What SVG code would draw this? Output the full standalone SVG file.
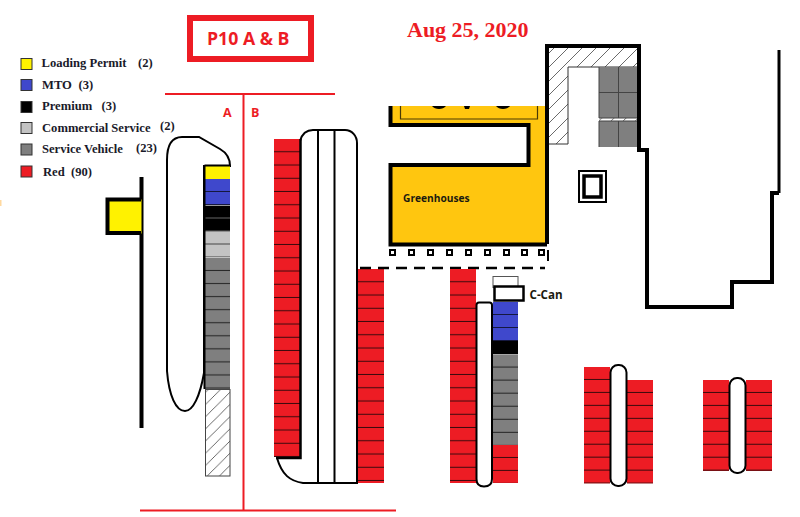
<svg xmlns="http://www.w3.org/2000/svg" width="800" height="517" viewBox="0 0 800 517">
<style>
.leg{font-family:"Liberation Serif",serif;font-weight:700;font-size:12.6px;fill:#1a1a2a}
.sw{stroke:#333;stroke-width:1}
.road{fill:#fff;stroke:#000;stroke-width:2}
.wall{fill:none;stroke:#000;stroke-width:4}
.rl{stroke:#ed1c24;stroke-width:2;fill:none}
.lab{font-family:"Open Sans",sans-serif;font-weight:700}
</style>
<defs>
<pattern id="pr" patternUnits="userSpaceOnUse" width="30" height="13.25"><rect width="30" height="13.25" fill="#ed1c24"/><rect y="12.25" width="30" height="1" fill="#3a0a0c"/></pattern>
<pattern id="pr2" patternUnits="userSpaceOnUse" width="30" height="12.95"><rect width="30" height="12.95" fill="#ed1c24"/><rect y="11.95" width="30" height="1" fill="#3a0a0c"/></pattern>
<pattern id="pg" patternUnits="userSpaceOnUse" width="30" height="13.05"><rect width="30" height="13.05" fill="#7f7f7f"/><rect y="12.05" width="30" height="1" fill="#222"/></pattern>
<pattern id="pb" patternUnits="userSpaceOnUse" width="30" height="13"><rect width="30" height="13" fill="#3f48cc"/><rect y="12" width="30" height="1" fill="#15183f"/></pattern>
<pattern id="pk" patternUnits="userSpaceOnUse" width="30" height="13"><rect width="30" height="13" fill="#000"/><rect y="12" width="30" height="1" fill="#666"/></pattern>
<pattern id="pl" patternUnits="userSpaceOnUse" width="30" height="13"><rect width="30" height="13" fill="#c3c3c3"/><rect y="12" width="30" height="1" fill="#444"/></pattern>
<pattern id="ph" patternUnits="userSpaceOnUse" width="12.2" height="12.2"><path d="M-1 13.2L13.2-1" stroke="#444" stroke-width="0.8" fill="none"/></pattern>
<pattern id="ph2" patternUnits="userSpaceOnUse" width="14" height="14"><path d="M-1 15L15-1" stroke="#444" stroke-width="0.8" fill="none"/></pattern>
</defs>

<rect x="0" y="200" width="1.500" height="6" fill="#ffd9a0"/>

<g id="title"><rect x="190" y="18" width="121" height="41" fill="#fff" stroke="#ed1c24" stroke-width="6"/><text x="207" y="45" class="lab" font-size="17.700" fill="#ed1c24">P10 A &amp; B</text></g>
<g id="date"><text x="407" y="37" font-family="Liberation Serif,serif" font-weight="700" font-size="22" fill="#ed1c24">Aug 25, 2020</text></g>

<g id="legend">
<rect class="sw" x="21" y="58.500" width="11" height="11" fill="#fff200"/><text class="leg" x="41.500" y="67">Loading Permit</text><text class="leg" x="138" y="67">(2)</text>
<rect class="sw" x="21" y="79.500" width="11" height="11" fill="#3f48cc"/><text class="leg" x="42" y="89">MTO</text><text class="leg" x="78.500" y="89">(3)</text>
<rect class="sw" x="21" y="101.500" width="11" height="11" fill="#000"/><text class="leg" x="42" y="110">Premium</text><text class="leg" x="101.500" y="110">(3)</text>
<rect class="sw" x="21" y="122.500" width="11" height="11" fill="#c3c3c3"/><text class="leg" x="42" y="131.500">Commercial Service</text><text class="leg" x="160" y="130">(2)</text>
<rect class="sw" x="21" y="144" width="11" height="11" fill="#7f7f7f"/><text class="leg" x="42" y="153">Service Vehicle</text><text class="leg" x="136" y="152">(23)</text>
<rect class="sw" x="21" y="166" width="11" height="11" fill="#ed1c24"/><text class="leg" x="43" y="176">Red</text><text class="leg" x="71" y="176">(90)</text>
</g>

<g id="dividers">
<path class="rl" d="M165 94H335M243.500 94V510M140 510.500H396"/>
<text x="223" y="117" class="lab" font-size="12.500" fill="#ed1c24">A</text>
<text x="251" y="117" class="lab" font-size="12.500" fill="#ed1c24">B</text>
</g>

<g id="lot-a">
<path class="wall" d="M141.500 177V428"/>
<rect x="107.500" y="199.500" width="34" height="34" fill="#fff200" stroke="none"/>
<path d="M141 199.500H107.500V233H141" fill="none" stroke="#000" stroke-width="4"/>
<path class="road" d="M204 373C200 396 193 411 185 411C176 411 169 396 167 371V160C167 145 172 137 182 137H199L220 149C227 153 230 158 230 166L204 166Z"/>
<rect x="205" y="166" width="25" height="13" fill="#fff200"/>
<g transform="translate(205 179)"><rect width="25" height="26" fill="url(#pb)"/></g>
<g transform="translate(205 205.500)"><rect width="25" height="26" fill="url(#pk)"/></g>
<g transform="translate(205 231.500)"><rect width="25" height="26" fill="url(#pl)"/></g>
<g transform="translate(205 258)"><rect width="25" height="131" fill="url(#pg)"/></g>
<rect x="205.500" y="389.500" width="24.500" height="86.500" fill="url(#ph)" stroke="#444" stroke-width="1"/>
<path d="M204.500 165.500H230.500M204.500 165V389" fill="none" stroke="#000" stroke-width="2"/>
</g>

<g id="lot-b">
<path class="road" d="M300 141C302 134 307 130 313 130H345C352 130 357 136 357 143V483H303C290 481 282 475 277 458"/>
<path d="M318 130V483M334.500 130V483" stroke="#000" stroke-width="2" fill="none"/>
<g transform="translate(274 139)"><rect width="26" height="318" fill="url(#pr)"/></g>
<path d="M300.500 139V458H276" fill="none" stroke="#000" stroke-width="2.500"/>
<g transform="translate(358 269)"><rect width="26" height="214" fill="url(#pr)"/></g>
</g>

<g id="greenhouses">
<path d="M390 106V125H528.500V165H390V244.500H547V106Z" fill="#ffc60f"/>
<path d="M390.500 106V125H528.500V165H390.500V244.500H547" fill="none" stroke="#000" stroke-width="4"/>
<path d="M400.500 106V119H537.500V106" fill="none" stroke="#4a3a05" stroke-width="1.200"/>
<path d="M432 106C435 110 443 110 446 106ZM464 106L465 109H469L470 106ZM496 106C499 110 507 110 510 106Z" fill="#000"/>
<text class="lab" x="403" y="201.500" font-size="10.200" fill="#1a1a10">Greenhouses</text>
</g>

<g id="building">
<path d="M548 48H637V67H568V144H548Z" fill="url(#ph2)" stroke="none"/>
<path d="M548 144H568V67H637" fill="none" stroke="#333" stroke-width="1"/>
<rect x="599" y="118" width="38" height="3.500" fill="url(#ph)"/>
<path d="M599 67H637V118H599ZM599 121H637V147H599Z" fill="#7f7f7f"/>
<path d="M618.500 67V118M618.500 121V147M599 92.500H637M599 118H637M599 121H637M599 67V118M599 121V147" stroke="#444" stroke-width="1" fill="none"/>
<path class="wall" d="M547 244V46H639V150H647V307H732V282H772V193H779"/>
<path d="M779 50V193" stroke="#000" stroke-width="3" fill="none"/>
</g>

<g id="kiosk">
<rect x="579" y="171" width="27" height="31" fill="#fff" stroke="#000" stroke-width="2"/>
<rect x="584" y="176" width="17" height="21" fill="#fff" stroke="#000" stroke-width="3.500"/>
</g>

<g id="bollards" fill="#fff" stroke="#000" stroke-width="2">
<rect x="390" y="250" width="5" height="5"/><rect x="409" y="250" width="5" height="5"/><rect x="428" y="250" width="5" height="5"/><rect x="447" y="250" width="5" height="5"/><rect x="466" y="250" width="5" height="5"/><rect x="485" y="250" width="5" height="5"/><rect x="504" y="250" width="5" height="5"/><rect x="522" y="250" width="5" height="5"/><rect x="539" y="250" width="5" height="5"/>
<path d="M548 250V261" fill="none"/>
</g>

<g id="fence"><path d="M360 268H545" stroke="#000" stroke-width="2.500" stroke-dasharray="11 7" fill="none"/></g>

<g id="lot-c">
<g transform="translate(450 269)"><rect width="26" height="214" fill="url(#pr)"/></g>
<path class="road" d="M476.500 305Q476.500 302.500 479 302.500H489.500Q492 302.500 492 305V479C492 484 489 486.500 484 486.500C479 486.500 476.500 484 476.500 479Z"/>
<rect x="493" y="276.500" width="25" height="11" fill="#fff" stroke="#555" stroke-width="1"/>
<rect x="494.500" y="286.500" width="29" height="14" fill="#fff" stroke="#000" stroke-width="2.500"/>
<text class="lab" x="529.500" y="299" font-size="11.600" fill="#1a1a10">C-Can</text>
<g transform="translate(493 302)"><rect width="25" height="39" fill="url(#pb)"/></g>
<rect x="493" y="341" width="25" height="13" fill="#000"/>
<g transform="translate(493 354.500)"><rect width="25" height="91" fill="url(#pg)"/></g>
<g transform="translate(493 445)"><rect width="25" height="38" fill="url(#pr2)"/></g>
</g>

<g id="lot-d">
<g transform="translate(584 367)"><rect width="26" height="116.500" fill="url(#pr2)"/></g>
<g transform="translate(627 380)"><rect width="26" height="103.500" fill="url(#pr2)"/></g>
<rect x="610.500" y="365" width="16" height="121" rx="7.500" class="road"/>
</g>

<g id="lot-e">
<g transform="translate(703 380)"><rect width="26" height="91" fill="url(#pr2)"/></g>
<g transform="translate(746 380)"><rect width="26" height="91" fill="url(#pr2)"/></g>
<rect x="729.500" y="378" width="16" height="95" rx="7.500" class="road"/>
</g>
</svg>
